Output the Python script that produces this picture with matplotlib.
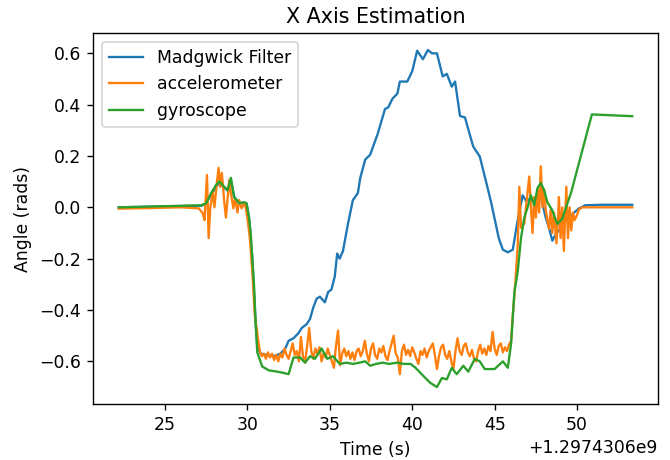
import matplotlib
matplotlib.use("Agg")
import matplotlib.pyplot as plt
import numpy as np

T0 = 1297430600.0

# Madgwick filter
t_madgwick = [22.2, 24, 26, 27.2, 27.5, 27.8, 28.1, 28.3, 28.55, 28.8, 29.0, 29.2, 29.5, 29.95,
              30.1, 30.3, 30.5, 30.6, 30.8, 31.2, 31.6, 32.0, 32.3, 32.5, 32.8, 33.1, 33.3, 33.6,
              33.8, 34.0, 34.2, 34.4, 34.7, 34.9, 35.1, 35.3, 35.45, 35.6, 35.8, 36.1, 36.4, 36.7,
              36.85, 37.15, 37.45, 37.9, 38.35, 38.55, 38.7, 38.8, 39.1, 39.25, 39.7, 40.0, 40.3,
              40.65, 40.95, 41.2, 41.5, 41.85, 42.1, 42.4, 42.6, 42.9, 43.2, 43.7, 44.1, 44.5,
              44.8, 45.25, 45.5, 45.8, 46.1, 46.4, 46.7, 46.9, 47.2, 47.5, 47.8, 48.1, 48.3, 48.5,
              48.75, 48.9, 49.35, 49.65, 50.1, 50.5, 51.5, 52.5, 53.35]
v_madgwick = [0.0, 0.002, 0.005, 0.006, 0.015, 0.05, 0.08, 0.095, 0.08, 0.065, 0.105, 0.04, 0.018, 0.015,
              -0.04, -0.2, -0.45, -0.54, -0.57, -0.575, -0.58, -0.57, -0.55, -0.52, -0.51, -0.49, -0.47, -0.455,
              -0.435, -0.39, -0.356, -0.348, -0.37, -0.33, -0.32, -0.27, -0.18, -0.2, -0.17, -0.065, 0.028, 0.055,
              0.115, 0.186, 0.205, 0.285, 0.383, 0.39, 0.41, 0.423, 0.443, 0.49, 0.49, 0.53, 0.61,
              0.577, 0.613, 0.60, 0.60, 0.51, 0.52, 0.47, 0.49, 0.356, 0.35, 0.237, 0.198, 0.095,
              0.016, -0.12, -0.165, -0.175, -0.165, -0.05, 0.047, 0.025, 0.035, 0.016, 0.04, -0.04, -0.08, -0.13,
              -0.10, -0.09, -0.05, -0.03, -0.005, 0.008, 0.01, 0.01, 0.01]

# accelerometer: start section
t_accel_a = [22.2, 24, 26, 27.05, 27.3, 27.4, 27.55, 27.65, 27.75, 27.9, 28.0, 28.15, 28.25, 28.35, 28.45,
             28.6, 28.7, 28.8, 28.9, 29.0, 29.15, 29.25, 29.4, 29.5, 29.65, 29.8, 29.9, 30.0, 30.15, 30.3,
             30.45, 30.6]
v_accel_a = [-0.005, -0.003, 0.0, -0.004, -0.024, -0.05, 0.126, -0.12, 0.0, 0.06, 0.0, 0.095, 0.154, 0.08, 0.134,
             0.02, -0.04, 0.035, 0.107, 0.055, -0.004, 0.035, -0.02, 0.028, -0.004, 0.016, 0.0, -0.04, -0.12, -0.25,
             -0.42, -0.49]
# accelerometer: low plateau, sampled every 0.125 s from 30.75 s
v_accel_b = [-0.56, -0.58, -0.57, -0.59, -0.565, -0.585, -0.57, -0.595, -0.575, -0.6,
             -0.57, -0.585, -0.55, -0.575, -0.59, -0.56, -0.53, -0.575, -0.56, -0.6,
             -0.505, -0.58, -0.605, -0.54, -0.47, -0.56, -0.59, -0.55, -0.57, -0.545,
             -0.6, -0.57, -0.585, -0.55, -0.575, -0.6, -0.625, -0.54, -0.48, -0.615,
             -0.57, -0.55, -0.58, -0.56, -0.59, -0.565, -0.595, -0.56, -0.55, -0.58,
             -0.56, -0.52, -0.57, -0.6, -0.55, -0.53, -0.575, -0.59, -0.55, -0.565,
             -0.54, -0.58, -0.595, -0.56, -0.53, -0.50, -0.57, -0.585, -0.65, -0.56,
             -0.535, -0.575, -0.555, -0.58, -0.545, -0.565, -0.59, -0.61, -0.56, -0.575,
             -0.55, -0.585, -0.56, -0.545, -0.53, -0.575, -0.63, -0.58, -0.545, -0.535,
             -0.575, -0.59, -0.56, -0.6, -0.63, -0.56, -0.51, -0.56, -0.575, -0.54,
             -0.53, -0.565, -0.58, -0.555, -0.59, -0.6, -0.56, -0.535, -0.57, -0.55,
             -0.575, -0.54, -0.56, -0.485, -0.55, -0.575, -0.54, -0.53, -0.565, -0.545,
             -0.56, -0.535, -0.52]
t_accel_b = list(np.round(30.75 + 0.125 * np.arange(len(v_accel_b)), 3))
# accelerometer: end section
t_accel_c = [46.1, 46.25, 46.4, 46.5, 46.6, 46.8, 46.9, 47.1, 47.2, 47.3, 47.4, 47.5, 47.6, 47.7, 47.8,
             47.9, 48.0, 48.1, 48.3, 48.4, 48.5, 48.6, 48.75, 48.85, 48.9, 49.0, 49.1, 49.2, 49.35, 49.45,
             49.55, 49.65, 49.75, 49.85, 50.0, 50.1, 50.3, 51.5, 53.35]
v_accel_c = [-0.42, -0.3, -0.15, 0.08, -0.08, -0.063, 0.0, 0.12, 0.0, -0.1, 0.04, -0.04, 0.07, -0.02, 0.16,
             0.0, 0.07, -0.01, -0.083, -0.01, -0.1, -0.02, -0.14, -0.04, 0.04, -0.12, 0.0, -0.17, 0.08, -0.12,
             0.0, -0.09, -0.02, -0.05, -0.03, -0.01, 0.0, 0.0, 0.0]
t_accel = t_accel_a + t_accel_b + t_accel_c
v_accel = v_accel_a + v_accel_b + v_accel_c

# gyroscope
t_gyro = [22.2, 24, 26, 27.2, 27.5, 27.8, 28.1, 28.3, 28.55, 28.8, 29.0, 29.2, 29.35, 29.5, 29.8, 29.95,
          30.1, 30.2, 30.3, 30.4, 30.5, 30.6, 30.9, 31.3, 31.8, 32.2, 32.5, 32.8, 33.2, 33.5, 33.8, 34.1,
          34.5, 34.85, 35.2, 35.6, 36.0, 36.4, 36.8, 37.15, 37.45, 37.8, 38.2, 38.6, 39.1, 39.5, 39.9,
          40.2, 40.5, 40.8, 41.1, 41.5, 41.8, 42.1, 42.4, 42.7, 43.1, 43.4, 43.8, 44.1, 44.4, 44.7, 45.0,
          45.5, 45.8, 46.0, 46.2, 46.4, 46.6, 46.8, 47.0, 47.2, 47.4, 47.6, 47.8, 48.0, 48.2, 48.5, 48.8,
          49.1, 49.65, 50.9, 53.35]
v_gyro = [0.0, 0.003, 0.006, 0.008, 0.016, 0.055, 0.087, 0.10, 0.083, 0.067, 0.115, 0.04, 0.028, 0.016, 0.02, 0.016,
          -0.04, -0.1, -0.2, -0.3, -0.45, -0.565, -0.62, -0.635, -0.64, -0.645, -0.65, -0.585, -0.585, -0.605, -0.58, -0.59,
          -0.55, -0.59, -0.58, -0.61, -0.605, -0.61, -0.605, -0.60, -0.617, -0.61, -0.605, -0.61, -0.605, -0.61, -0.61,
          -0.625, -0.645, -0.665, -0.684, -0.70, -0.665, -0.67, -0.625, -0.65, -0.617, -0.64, -0.59, -0.60, -0.63, -0.63, -0.63,
          -0.60, -0.625, -0.53, -0.33, -0.25, -0.12, -0.04, 0.0, 0.047, 0.008, 0.075, 0.095, 0.067, 0.02, -0.012, -0.065,
          -0.045, 0.06, 0.362, 0.355]

S = 1.24
DPI = 100 * S
fig = plt.figure(figsize=(670 / DPI, 460 / DPI), dpi=DPI)
ax = fig.add_axes([0.139, 0.122, 0.843, 0.806])
ax.plot(T0 + np.array(t_madgwick), v_madgwick, label="Madgwick Filter", color="#1f77b4", lw=1.35)
ax.plot(T0 + np.array(t_accel), v_accel, label="accelerometer", color="#ff7f0e", lw=1.35)
ax.plot(T0 + np.array(t_gyro), v_gyro, label="gyroscope", color="#2ca02c", lw=1.35)
ax.set_title("X Axis Estimation")
ax.set_xlabel("Time (s)")
ax.set_ylabel("Angle (rads)")
ax.legend(loc="upper left")
fig.savefig("out.png", dpi=DPI)
